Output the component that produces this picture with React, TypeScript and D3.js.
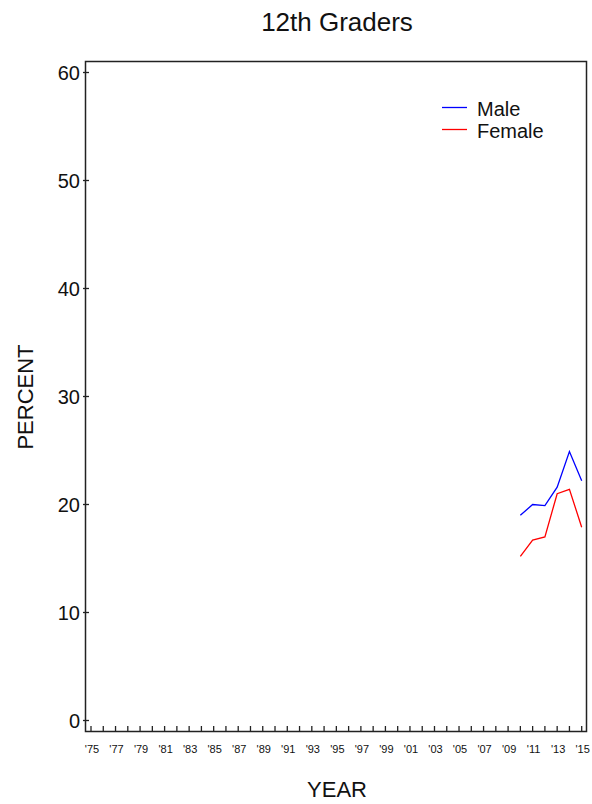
import React from "react";
import * as d3 from "d3";

const years = [2010, 2011, 2012, 2013, 2014, 2015];
const maleValues = [19.0, 20.0, 19.9, 21.6, 24.9, 22.2];
const femaleValues = [15.2, 16.7, 17.0, 21.0, 21.4, 17.9];
const yTicks = [0, 10, 20, 30, 40, 50, 60];
const xTickYears = d3.range(1975, 2016);
const xLabelYears = d3.range(1975, 2016, 2);
const seriesNames = ["Male", "Female"];
const seriesColors = ["#0000ff", "#ff0000"];

const W = 592;
const H = 804;
const left = 85.5;
const right = 586.5;
const top = 61.5;
const bottom = 731.5;

export default function App() {
  const x = d3.scaleLinear().domain([1975, 2015]).range([91, 581.7]);
  const y = d3.scaleLinear().domain([0, 60]).range([720.5, 72.5]);
  const line = d3
    .line<[number, number]>()
    .x((d) => x(d[0]))
    .y((d) => y(d[1]));
  const series = [maleValues, femaleValues];
  const font = "'Liberation Sans', Arial, sans-serif";
  return (
    <svg
      width={W}
      height={H}
      style={{ position: "absolute", left: 0, top: 0, background: "#fff" }}
      fontFamily={font}
    >
      <rect x={0} y={0} width={W} height={H} fill="#fff" />
      <text x={337} y={31} textAnchor="middle" fontSize={26} fill="#111">
        12th Graders
      </text>
      <rect
        x={left}
        y={top}
        width={right - left}
        height={bottom - top}
        fill="none"
        stroke="#222"
        strokeWidth={1.5}
      />
      {yTicks.map((t) => (
        <g key={t}>
          <line x1={83} x2={89} y1={y(t)} y2={y(t)} stroke="#222" strokeWidth={1.3} />
          <text x={80} y={y(t) + 7} textAnchor="end" fontSize={20} fill="#111">
            {t}
          </text>
        </g>
      ))}
      {xTickYears.map((yr) => (
        <line
          key={yr}
          x1={x(yr)}
          x2={x(yr)}
          y1={bottom}
          y2={bottom - 5.5}
          stroke="#222"
          strokeWidth={1.3}
        />
      ))}
      {xLabelYears.map((yr) => (
        <text key={yr} x={x(yr) + 1} y={753} textAnchor="middle" fontSize={11} fill="#111">
          {"'" + String(yr).slice(2)}
        </text>
      ))}
      <text x={337} y={797} textAnchor="middle" fontSize={22} fill="#111">
        YEAR
      </text>
      <text
        transform="translate(33,397) rotate(-90)"
        textAnchor="middle"
        fontSize={22}
        fill="#111"
      >
        PERCENT
      </text>
      {series.map((vals, i) => (
        <path
          key={i}
          d={line(years.map((yr, j) => [yr, vals[j]] as [number, number])) || ""}
          fill="none"
          stroke={seriesColors[i]}
          strokeWidth={1.3}
        />
      ))}
      {seriesNames.map((name, i) => (
        <g key={name}>
          <line
            x1={442}
            x2={467}
            y1={107.5 + i * 22}
            y2={107.5 + i * 22}
            stroke={seriesColors[i]}
            strokeWidth={1.3}
          />
          <text x={477} y={115.5 + i * 22} fontSize={20} fill="#111">
            {name}
          </text>
        </g>
      ))}
    </svg>
  );
}
